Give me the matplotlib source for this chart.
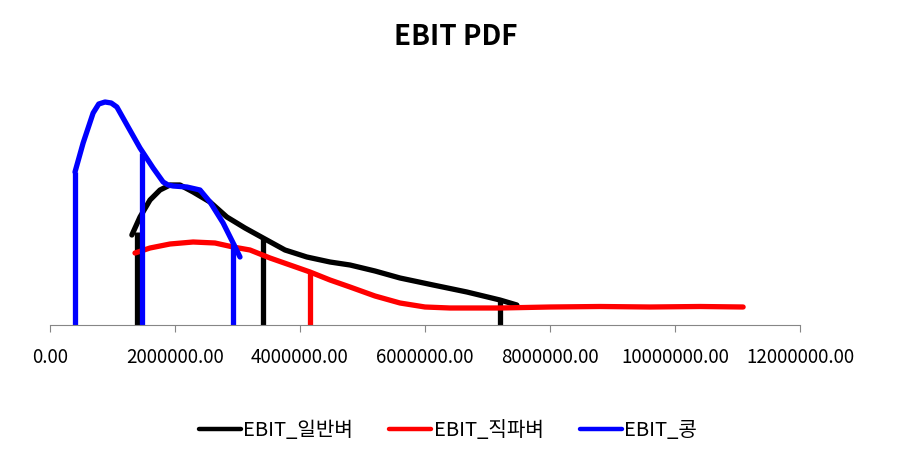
#!/usr/bin/env python3

import matplotlib
matplotlib.use('Agg')
import matplotlib.pyplot as plt
import numpy as np

plt.rcParams['font.family'] = ['Noto Sans CJK KR', 'DejaVu Sans']

#-----------
# DATA (x in millions, y = density in arbitrary units)
#-----------
normal_x = [1.31, 1.44, 1.60, 1.76, 1.92, 2.08, 2.29, 2.56, 2.83, 3.12, 3.41, 3.76, 4.11,
            4.48, 4.80, 5.20, 5.60, 6.13, 6.67, 7.20, 7.47]
normal_y = [0.90, 1.08, 1.25, 1.35, 1.40, 1.40, 1.33, 1.23, 1.08, 0.97, 0.87, 0.75, 0.68,
            0.63, 0.60, 0.54, 0.47, 0.40, 0.33, 0.25, 0.20]
normal_vx = [1.39, 3.41, 7.20]
normal_vy = [0.93, 0.87, 0.25]

direct_x = [1.36, 1.60, 1.92, 2.29, 2.64, 2.93, 3.20, 3.52, 3.84, 4.16, 4.48, 4.80, 5.20,
            5.60, 6.00, 6.40, 7.20, 8.00, 8.80, 9.60, 10.40, 11.09]
direct_y = [0.72, 0.77, 0.81, 0.83, 0.82, 0.78, 0.75, 0.67, 0.60, 0.53, 0.45, 0.38, 0.29,
            0.22, 0.18, 0.17, 0.17, 0.18, 0.185, 0.18, 0.185, 0.18]
direct_vx = [4.16]
direct_vy = [0.53]

bean_x = [0.40, 0.53, 0.69, 0.78, 0.88, 0.98, 1.07, 1.25, 1.44, 1.65, 1.81, 1.89, 1.97,
          2.19, 2.40, 2.56, 2.77, 2.93, 3.04]
bean_y = [1.53, 1.82, 2.12, 2.21, 2.23, 2.22, 2.18, 1.98, 1.77, 1.57, 1.43, 1.40, 1.39,
          1.38, 1.35, 1.23, 1.02, 0.82, 0.68]
bean_vx = [0.40, 1.47, 2.93]
bean_vy = [1.53, 1.72, 0.82]

labels = ['EBIT_일반벼', 'EBIT_직파벼', 'EBIT_콩']
colors = ['#000000', '#ff0000', '#0000ff']
xticks = np.arange(0, 12000001, 2000000)

#-----------
# PLOT
#-----------
fig = plt.figure(figsize=(9.12, 4.58), dpi=100)
ax = fig.add_axes([50/912, 133/458, 750/912, 240/458])

series = [
  (normal_x, normal_y, normal_vx, normal_vy),
  (direct_x, direct_y, direct_vx, direct_vy),
  (bean_x, bean_y, bean_vx, bean_vy),
]
for (xs, ys, vx, vy), lab, col in zip(series, labels, colors):
  ax.plot(np.array(xs) * 1e6, ys, color=col, lw=3.8, label=lab,
          solid_capstyle='round', solid_joinstyle='round')
  ax.vlines(np.array(vx) * 1e6, 0, vy, color=col, lw=3.8)

ax.set_xlim(0, 12000000)
ax.set_ylim(0, 2.4)
ax.set_xticks(xticks)
ax.set_xticklabels([f"{v:.2f}" for v in xticks], fontsize=13.5)
ax.set_yticks([])
for s in ['top', 'right', 'left']:
  ax.spines[s].set_visible(False)
ax.spines['bottom'].set_color('#868686')
ax.tick_params(axis='x', direction='out', length=5, color='#868686', pad=11)

fig.suptitle('EBIT PDF', fontsize=20, fontweight='bold', y=0.95)
leg = fig.legend(loc='center', bbox_to_anchor=(0.491, 0.06), ncol=3, frameon=False,
                 fontsize=14.5, handlelength=2.1, handletextpad=0.1, columnspacing=1.8)
for line in leg.get_lines():
  line.set_linewidth(3.2)

fig.savefig('out.png', dpi=100)
